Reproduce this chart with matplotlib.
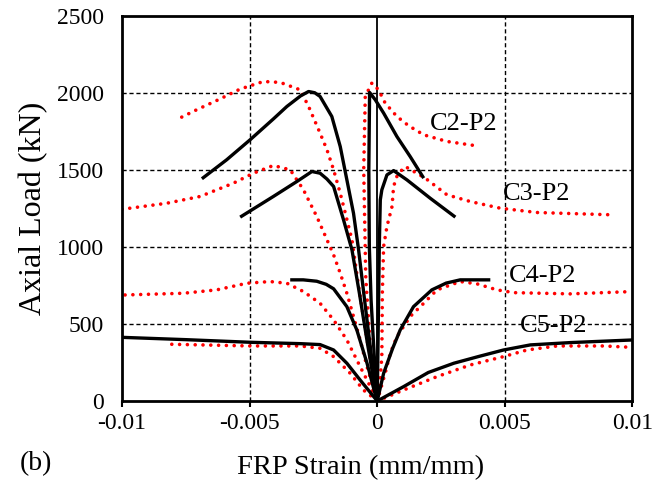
import numpy as np
import matplotlib
matplotlib.use("Agg")
import matplotlib.pyplot as plt

plt.rcParams['font.family'] = ['Liberation Serif', 'DejaVu Serif']

# experimental curves (black), strain in mm/mm and load in kN
c2_exp_left_s = [-0.00687, -0.00590, -0.00498, -0.00407, -0.00354, -0.00300, -0.00269, -0.00245, -0.00224, -0.00178, -0.00145, -0.00119, -0.00093, -0.00073, -0.00050, -0.00025, 0]
c2_exp_left_p = [1442, 1565, 1695, 1830, 1911, 1980, 2008, 2000, 1976, 1846, 1651, 1435, 1218, 980, 660, 320, 0]
c2_exp_right_s = [0, -0.00012, -0.00024, -0.00031, -0.00033, -0.00030, -0.00008, 0.00025, 0.00077, 0.00129, 0.00182]
c2_exp_right_p = [0, 300, 650, 1000, 1500, 2002, 1955, 1868, 1716, 1586, 1446]

c3_exp_left_s = [-0.00537, -0.00407, -0.00315, -0.00256, -0.00224, -0.00197, -0.00171, -0.00132, -0.00099, -0.00070, -0.00038, 0]
c3_exp_left_p = [1193, 1327, 1424, 1489, 1478, 1440, 1392, 1175, 980, 700, 370, 0]
c3_exp_right_s = [0, 0.00004, 0.00008, 0.00012, 0.00018, 0.00038, 0.00064, 0.00116, 0.00208, 0.00306]
c3_exp_right_p = [0, 500, 1000, 1305, 1370, 1467, 1495, 1435, 1315, 1193]

c4_exp_left_s = [-0.00341, -0.00290, -0.00237, -0.00200, -0.00171, -0.00119, -0.00080, -0.00040, -0.00009, 0]
c4_exp_left_p = [786, 786, 777, 757, 728, 612, 461, 245, 50, 0]
c4_exp_right_s = [0, 0.00025, 0.00060, 0.00090, 0.00142, 0.00214, 0.00270, 0.00325, 0.00443]
c4_exp_right_p = [0, 180, 340, 461, 612, 721, 765, 786, 786]

c5_exp_left_s = [-0.01, -0.0075, -0.00498, -0.00300, -0.00224, -0.00171, -0.00119, -0.00067, 0]
c5_exp_left_p = [413, 398, 381, 372, 366, 331, 245, 136, 0]
c5_exp_right_s = [0, 0.00103, 0.0020, 0.0030, 0.0040, 0.00495, 0.0060, 0.00757, 0.01]
c5_exp_right_p = [0, 93, 185, 245, 290, 331, 364, 379, 396]

# model curves (red dotted)
c2_mod_left_s = [-0.00766, -0.00707, -0.00622, -0.00537, -0.00446, -0.00380, -0.00302, -0.00269, -0.00224, -0.00197, -0.00171, -0.00145, -0.00125, -0.00099, -0.00078, -0.00050, -0.00025, 0]
c2_mod_left_p = [1842, 1890, 1955, 2024, 2073, 2067, 2019, 1911, 1738, 1630, 1500, 1348, 1218, 1045, 800, 500, 250, 0]
c2_mod_right_s = [0, -0.00025, -0.00045, -0.00053, -0.00047, -0.00021, 0.00005, 0.00031, 0.00077, 0.00123, 0.00182, 0.00273, 0.00388]
c2_mod_right_p = [0, 300, 800, 1500, 1976, 2063, 2019, 1933, 1846, 1786, 1727, 1684, 1656]

c3_mod_left_s = [-0.01, -0.00825, -0.00694, -0.00564, -0.00485, -0.00407, -0.00341, -0.00289, -0.00237, -0.00190, -0.00171, -0.00145, -0.00119, -0.00093, -0.00067, -0.00040, 0]
c3_mod_left_p = [1244, 1283, 1327, 1413, 1478, 1528, 1500, 1370, 1197, 1020, 948, 829, 699, 548, 396, 223, 0]
c3_mod_right_s = [0, 0.00012, 0.00018, 0.00020, 0.00025, 0.00038, 0.00058, 0.00064, 0.00077, 0.00097, 0.00110, 0.00188, 0.00273, 0.00365, 0.00482, 0.00626, 0.0092]
c3_mod_right_p = [0, 150, 290, 700, 1002, 1132, 1262, 1392, 1457, 1500, 1521, 1446, 1338, 1294, 1251, 1223, 1208]

c4_mod_left_s = [-0.00988, -0.0076, -0.00629, -0.00511, -0.0042, -0.00354, -0.00289, -0.00224, -0.00171, -0.00119, -0.00067, -0.00027, 0]
c4_mod_left_p = [688, 699, 721, 764, 775, 764, 710, 634, 526, 396, 223, 93, 0]
c4_mod_right_s = [0, 0.00031, 0.00051, 0.00077, 0.00129, 0.00182, 0.00234, 0.00325, 0.00391, 0.00469, 0.00535, 0.00757, 0.00999]
c4_mod_right_p = [0, 180, 309, 417, 548, 634, 721, 775, 760, 721, 703, 695, 710]

c5_mod_left_s = [-0.00805, -0.00498, -0.00302, -0.00224, -0.00171, -0.00106, -0.00054, 0]
c5_mod_left_p = [368, 357, 357, 342, 288, 180, 71, 0]
c5_mod_right_s = [0, 0.00103, 0.00234, 0.00365, 0.00495, 0.00587, 0.00705, 0.00887, 0.00999]
c5_mod_right_p = [0, 71, 158, 234, 288, 331, 357, 357, 348]

labels = ['C2-P2', 'C3-P2', 'C4-P2', 'C5-P2']
label_s = [0.00208, 0.00494, 0.00514, 0.0056]
label_p = [1799, 1344, 812, 487]

x_ticks = [-0.01, -0.005, 0, 0.005, 0.01]
x_ticklabels = ['-0.01', '-0.005', '0', '0.005', '0.01']
y_ticks = [0, 500, 1000, 1500, 2000, 2500]

fig = plt.figure(figsize=(6.7, 4.87), dpi=100)
ax = fig.add_axes([0.1821, 0.1766, 0.7619, 0.7912])

# grid
for xv in [-0.005, 0.005]:
    ax.axvline(xv, color='black', linestyle=(0, (3, 2)), linewidth=1.0, zorder=1)
for yv in [500, 1000, 1500, 2000]:
    ax.axhline(yv, color='black', linestyle=(0, (3, 2)), linewidth=1.0, zorder=1)
ax.axvline(0, color='black', linewidth=1.3, zorder=1)

model = [(c2_mod_left_s, c2_mod_left_p), (c2_mod_right_s, c2_mod_right_p),
         (c3_mod_left_s, c3_mod_left_p), (c3_mod_right_s, c3_mod_right_p),
         (c4_mod_left_s, c4_mod_left_p), (c4_mod_right_s, c4_mod_right_p),
         (c5_mod_left_s, c5_mod_left_p), (c5_mod_right_s, c5_mod_right_p)]
exp = [(c2_exp_left_s, c2_exp_left_p), (c2_exp_right_s, c2_exp_right_p),
       (c3_exp_left_s, c3_exp_left_p), (c3_exp_right_s, c3_exp_right_p),
       (c4_exp_left_s, c4_exp_left_p), (c4_exp_right_s, c4_exp_right_p),
       (c5_exp_left_s, c5_exp_left_p), (c5_exp_right_s, c5_exp_right_p)]

for s, p in model:
    ax.plot(s, p, color='red', linewidth=2.6, linestyle=(0, (0.01, 2.15)),
            dash_capstyle='round', zorder=2)
for s, p in exp:
    ax.plot(s, p, color='black', linewidth=2.4, solid_joinstyle='round',
            solid_capstyle='butt', zorder=3)

for lab, s, p in zip(labels, label_s, label_p):
    ax.text(s, p, lab, fontsize=19, ha='left', va='center', zorder=4)

ax.set_xlim(-0.01, 0.01)
ax.set_ylim(0, 2500)
ax.set_xticks(x_ticks)
ax.set_xticklabels(x_ticklabels)
ax.set_yticks(y_ticks)
ax.tick_params(axis='x', direction='out', length=4, width=1.5, labelsize=17, pad=5)
ax.tick_params(axis='y', length=0, labelsize=17, pad=13)
for sp in ax.spines.values():
    sp.set_linewidth(2)

ax.set_xlabel('FRP Strain (mm/mm)', fontsize=20.5)
ax.xaxis.set_label_coords(0.468, -0.14)
ax.set_ylabel('Axial Load (kN)', fontsize=23, labelpad=6)
fig.text(0.03, 0.048, '(b)', fontsize=20, ha='left', va='center')

fig.savefig('out.png', dpi=100)
